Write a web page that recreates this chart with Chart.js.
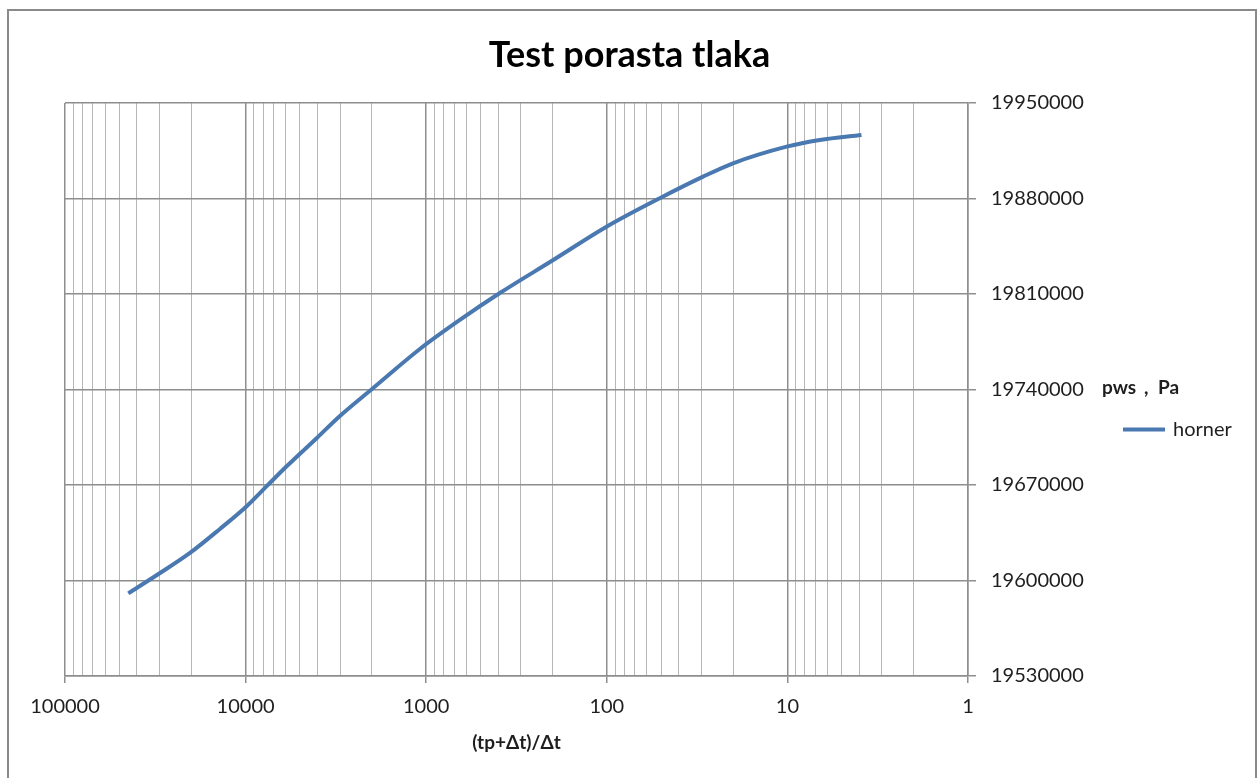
<!DOCTYPE html>
<html>
<head>
<meta charset="utf-8">
<title>Test porasta tlaka</title>
<script src="https://cdn.jsdelivr.net/npm/chart.js@4.4.1/dist/chart.umd.min.js"></script>
<style>
  html, body { margin: 0; padding: 0; background: #fff; }
  #wrap { position: relative; width: 1259px; height: 778px; }
</style>
</head>
<body>
<div id="wrap"><canvas id="chart"></canvas></div>
<script>
// (tp+dt)/dt values and shut-in pressure
const hornerTime = [44630, 30960, 20330, 13870, 9830, 7617, 5906, 4030, 3004, 1966,
                    1084, 651, 391, 198, 100.4, 50.9, 29.3, 20.0, 10.1, 6.62, 3.89];
const pwsValues = [19590600, 19604000, 19620200, 19637800, 19654600, 19669300, 19683900, 19704500, 19720600, 19741100,
                   19769700, 19791000, 19810700, 19834900, 19859300, 19880200, 19896000, 19905800, 19918000, 19922900, 19926600];
const xTickLabels = ['100000', '10000', '1000', '100', '10', '1'];
const yTickValues = [19530000, 19600000, 19670000, 19740000, 19810000, 19880000, 19950000];
const seriesName = 'horner';
const chartTitle = 'Test porasta tlaka';
const xTitle = '(tp+\u0394t)/\u0394t';

const FONT = 'Lato, "Open Sans", sans-serif';
const MAJOR = '#8e8e8e';
const MINOR = '#b6b6b6';
const TEXT = '#1e1e1e';

function isDecade(v) {
    const l = Math.log10(v);
    return Math.abs(l - Math.round(l)) < 1e-9;
}

// 1..9 in every decade, the last decade only gets its own line
const xDecades = xTickLabels.map(Number).sort((a, b) => a - b);
function buildLogTicks() {
    const ticks = [];
    xDecades.forEach((d, i) => {
        if (i === xDecades.length - 1) { ticks.push({ value: d }); return; }
        for (let m = 1; m < 10; m++) ticks.push({ value: m * d });
    });
    return ticks;
}

// frame, horizontal axis name and legend (Excel style)
const extras = {
    id: 'extras',
    afterDraw(chart) {
        const { ctx, chartArea } = chart;
        ctx.save();
        ctx.strokeStyle = '#8a8a8a';
        ctx.lineWidth = 2;
        ctx.strokeRect(8, 10, chart.width - 11, chart.height + 20);

        const yMid = (chartArea.top + chartArea.bottom) / 2;
        const x0 = chartArea.right + 134;
        ctx.fillStyle = TEXT;
        ctx.textBaseline = 'alphabetic';
        ctx.textAlign = 'left';
        ctx.font = 'bold 19px ' + FONT;
        ctx.fillText('pws', x0, yMid + 4);
        ctx.fillText(',', x0 + 42, yMid + 4);
        ctx.fillText('Pa', x0 + 56, yMid + 4);

        const ds = chart.data.datasets[0];
        const ly = yMid + 40;
        ctx.strokeStyle = ds.borderColor;
        ctx.lineWidth = 4;
        ctx.beginPath();
        ctx.moveTo(chartArea.right + 155, ly);
        ctx.lineTo(chartArea.right + 197, ly);
        ctx.stroke();
        ctx.font = '20px ' + FONT;
        ctx.textBaseline = 'middle';
        ctx.fillText(ds.label, chartArea.right + 205, ly);
        ctx.restore();
    }
};

new Chart(document.getElementById('chart'), {
    type: 'line',
    data: {
        datasets: [{
            label: seriesName,
            data: hornerTime.map((t, i) => ({ x: t, y: pwsValues[i] })),
            xAxisID: 'x',
            yAxisID: 'y',
            borderColor: '#4a78b0',
            borderWidth: 4,
            pointRadius: 0,
            cubicInterpolationMode: 'monotone',
            fill: false
        }]
    },
    options: {
        responsive: true,
        maintainAspectRatio: false,
        animation: false,
        layout: { padding: 0 },
        plugins: {
            legend: { display: false },
            tooltip: { enabled: false },
            title: {
                display: true,
                text: chartTitle,
                color: '#000',
                font: { family: FONT, size: 36, weight: 'bold' },
                padding: { top: 33.4, bottom: 26.4 }
            }
        },
        scales: {
            x: {
                type: 'logarithmic',
                reverse: true,
                min: 1,
                max: 100000,
                afterBuildTicks: s => { s.ticks = buildLogTicks(); },
                afterFit: s => { s.height = 102; },
                ticks: {
                    autoSkip: false,
                    maxRotation: 0,
                    padding: 12,
                    color: TEXT,
                    font: { family: FONT, size: 20 },
                    callback: v => isDecade(v) ? String(v) : ''
                },
                grid: {
                    color: c => isDecade(c.tick.value) ? MAJOR : MINOR,
                    lineWidth: c => isDecade(c.tick.value) ? 1.5 : 1,
                    tickLength: 7,
                    tickColor: c => isDecade(c.tick.value) ? MAJOR : 'rgba(0,0,0,0)'
                },
                border: { display: true, color: MAJOR, width: 1.5 },
                title: {
                    display: true,
                    text: xTitle,
                    color: TEXT,
                    font: { family: FONT, size: 19, weight: 'bold' },
                    padding: { top: 0, bottom: 23.6 }
                }
            },
            y: {
                position: 'right',
                min: 19530000,
                max: 19950000,
                afterBuildTicks: s => { s.ticks = yTickValues.map(v => ({ value: v })); },
                afterFit: s => { s.width = 291; },
                ticks: {
                    padding: 15,
                    color: TEXT,
                    font: { family: FONT, size: 20 },
                    callback: v => String(v)
                },
                grid: { color: MAJOR, lineWidth: 1.5, tickLength: 8 },
                border: { display: true, color: MAJOR, width: 1.5 }
            },
            // empty left margin so the title stays centred on the whole chart
            left: {
                position: 'left',
                display: true,
                ticks: { display: false },
                grid: { display: false, drawTicks: false },
                border: { display: false },
                afterFit: s => { s.width = 65; }
            }
        }
    },
    plugins: [extras]
});
</script>
</body>
</html>
